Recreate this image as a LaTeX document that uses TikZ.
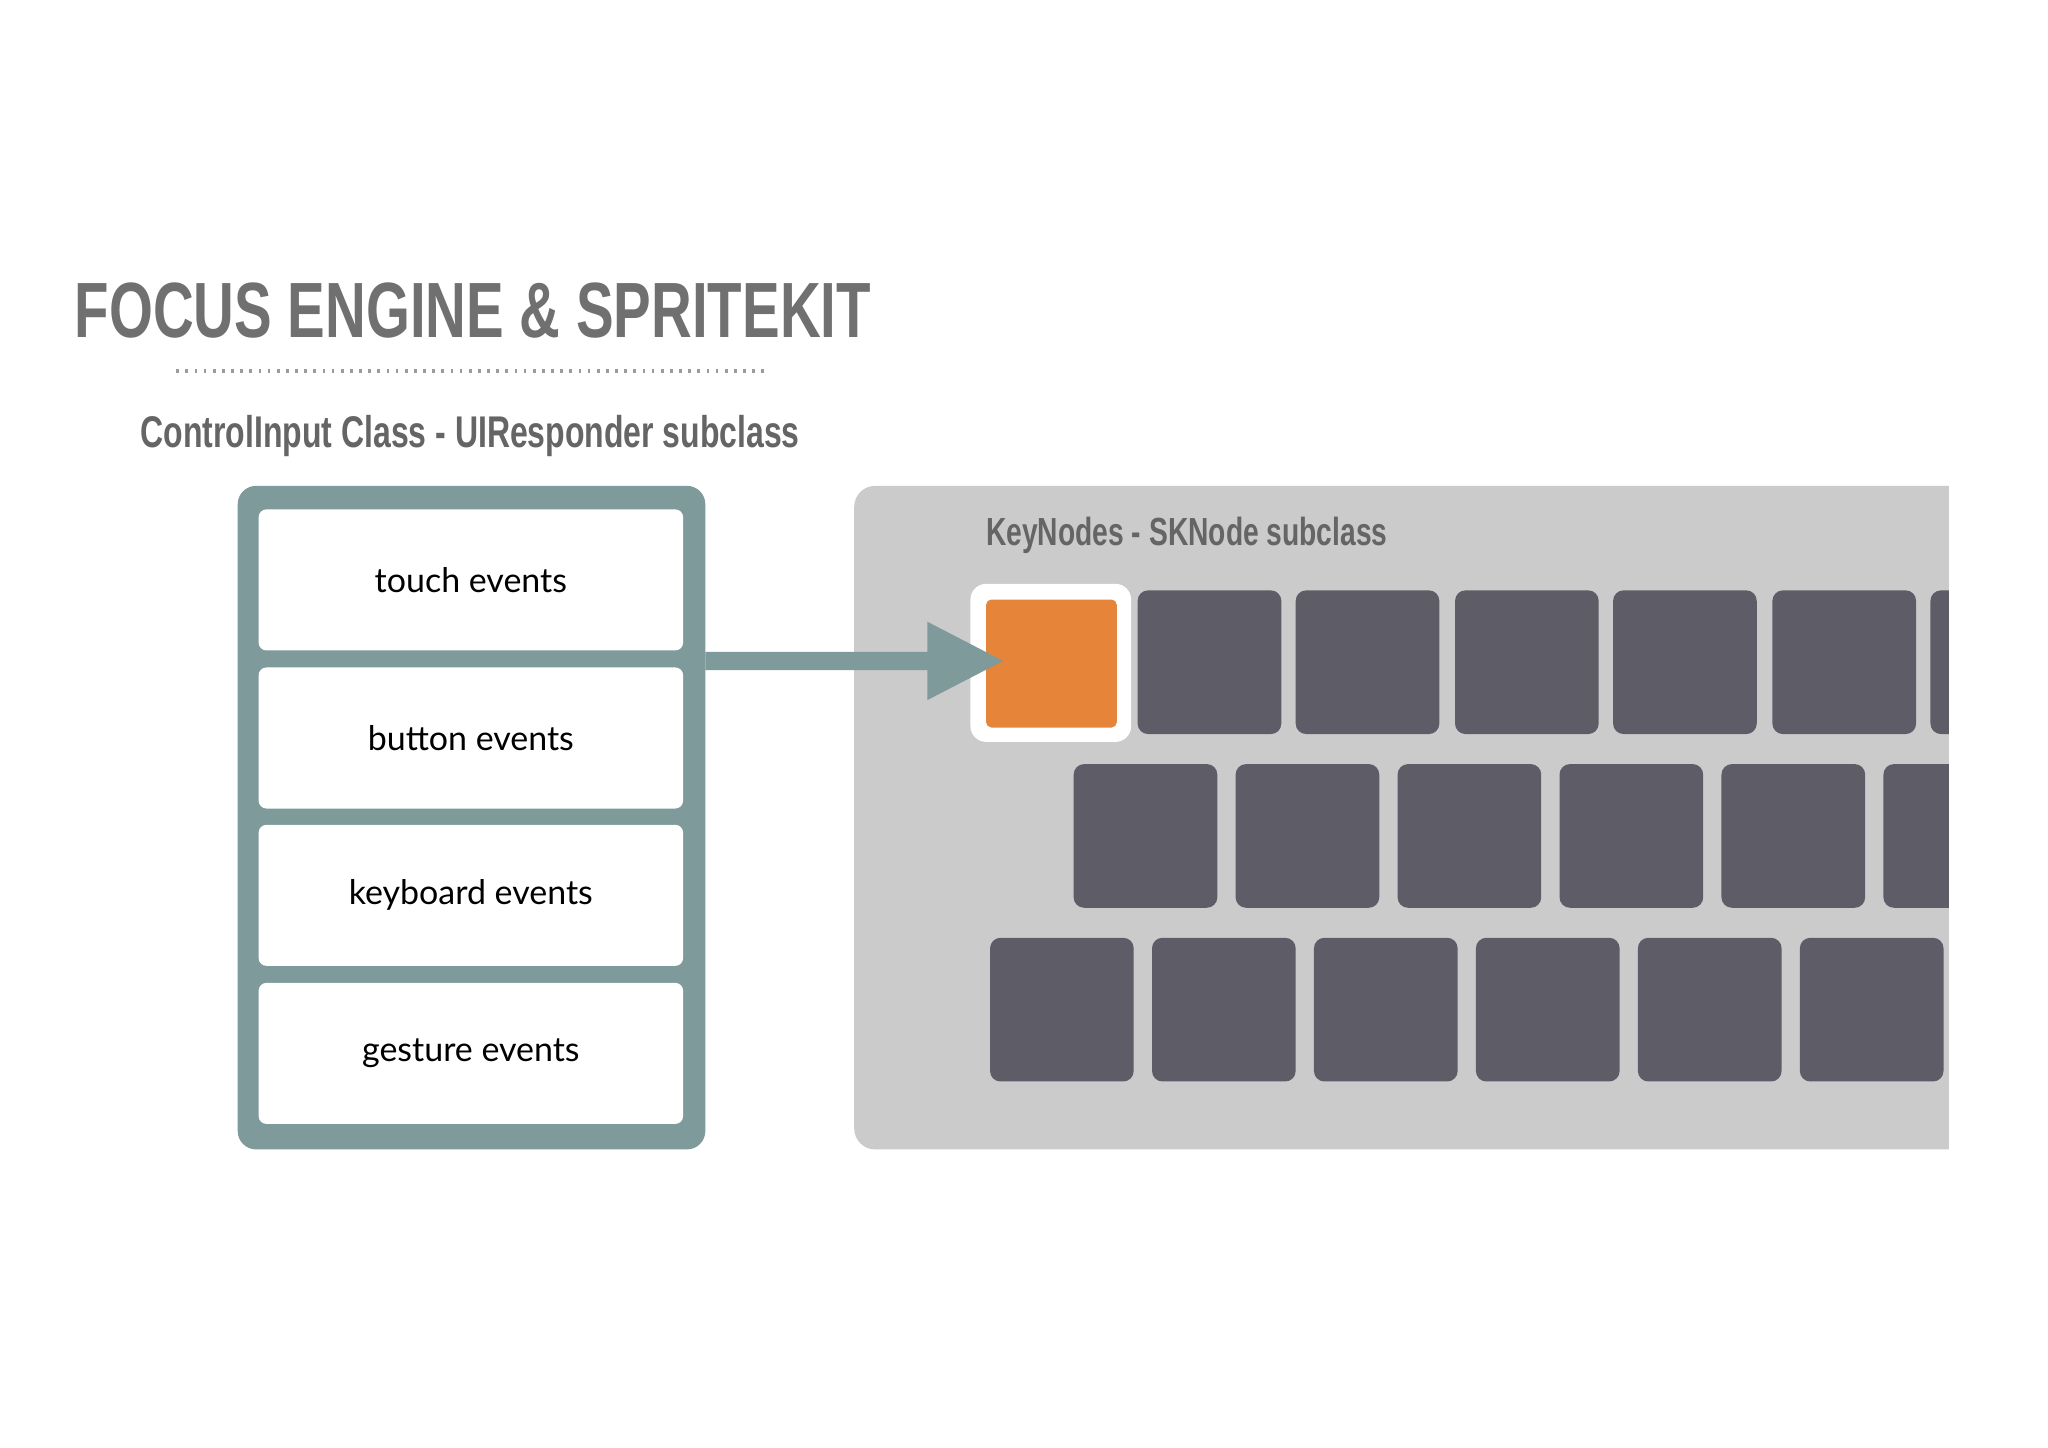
\documentclass[tikz,border=0pt]{standalone}
\usepackage{fontspec}
\setmainfont{Lato}
\newfontfamily\condfont{Liberation Sans}
\definecolor{frame}{HTML}{7F9A9A}
\definecolor{panel}{HTML}{CBCBCC}
\definecolor{keyc}{HTML}{5E5C66}
\definecolor{orng}{HTML}{E6853A}
\definecolor{ttl}{HTML}{707070}
\tikzset{
 evbox/.style={draw=none,fill=white,rounded corners=3pt,minimum width=162.5pt,minimum height=54pt,font=\fontsize{13}{15}\selectfont,text=black},
 keybox/.style={fill=keyc,rounded corners=4pt,minimum width=55pt,minimum height=55pt,inner sep=0pt},
}
\begin{document}
\begin{tikzpicture}[x=0.5pt,y=-0.5pt]
\useasboundingbox (0,0) rectangle (1568,1108);
\fill[white] (0,0) rectangle (1568,1108);
\node[text=ttl,font=\condfont\bfseries\fontsize{30}{34}\selectfont] (title) at (362,238) {\scalebox{0.72}[1]{FOCUS ENGINE \& SPRITEKIT}};
\draw[ttl!70,line width=1.2pt,dash pattern=on 1pt off 2.5pt] (135,284) -- (590,284);
\node[text=ttl!90!black,font=\condfont\bfseries\fontsize{17}{20}\selectfont] (sub) at (360,334) {\scalebox{0.72}[1]{ControlInput Class - UIResponder subclass}};
\fill[frame,rounded corners=7pt] (182,372) rectangle (540,880);
\node[evbox] (e1) at (360.5,444) {touch events};
\node[evbox] (e2) at (360.5,565) {button events};
\node[evbox] (e3) at (360.5,685.5) {keyboard events};
\node[evbox] (e4) at (360.5,806.5) {gesture events};
\begin{scope}
\clip (0,0) rectangle (1492,1108);
\fill[panel,rounded corners=8pt] (654,372) rectangle (1560,880);
\node[text=ttl!90!black,font=\condfont\bfseries\fontsize{15}{18}\selectfont,anchor=west] (kn) at (748,410) {\scalebox{0.72}[1]{KeyNodes - SKNode subclass}};
\node[fill=white,rounded corners=6pt,minimum width=61.5pt,minimum height=60.5pt] (sel) at (804.5,507.5) {};
\node[fill=orng,rounded corners=2pt,minimum width=50pt,minimum height=49pt,inner sep=0pt] (k0) at (805,508) {};
\foreach \x [count=\i] in {871,992,1114,1235,1357,1478} \node[keybox] (ka\i) at (\x+55,507) {};
\foreach \x [count=\i] in {822,946,1070,1194,1318,1442} \node[keybox] (kb\i) at (\x+55,640) {};
\foreach \x [count=\i] in {758,882,1006,1130,1254,1378} \node[keybox] (kc\i) at (\x+55,773) {};
\end{scope}
\coordinate (as) at (540,506);
\coordinate (ah) at (768,506);
\fill[frame] (540,499) -- (710,499) -- (710,476) -- (768,506) -- (710,536) -- (710,513) -- (540,513) -- cycle;
\end{tikzpicture}
\end{document}
